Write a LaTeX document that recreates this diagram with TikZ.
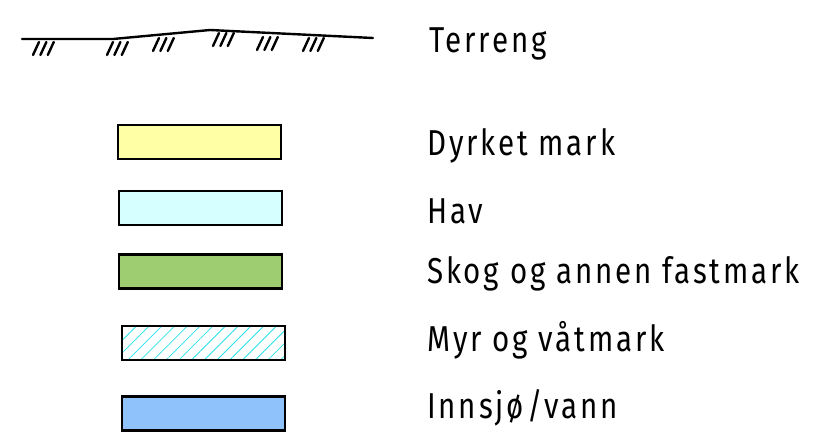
\documentclass[tikz,border=0pt]{standalone}
\usepackage{fontspec}
\setmainfont{Fira Sans}[FakeStretch=0.82,LetterSpace=8]
\usepackage{xcolor}
\usepackage{tikz}
\usetikzlibrary{patterns.meta}
\definecolor{dyrket}{RGB}{255,255,166}
\definecolor{hav}{RGB}{214,255,255}
\definecolor{skog}{RGB}{158,204,113}
\definecolor{myr}{RGB}{40,225,235}
\definecolor{vann}{RGB}{143,193,250}

\begin{document}
\begin{tikzpicture}[x=1pt,y=-1pt,font=\fontsize{36}{40}\selectfont,
  felt/.style={draw=black,line width=2.8pt,minimum width=163pt,minimum height=34pt,inner sep=0pt},
  lbl/.style={anchor=base west,inner sep=0pt},
  ln/.style={line width=2.4pt,line cap=round}]
  \useasboundingbox (0,0) rectangle (815,437);
  % terreng
  \draw[ln,line join=round] (22,39) -- (113,39) -- (210,30) -- (373,38);
  \foreach \x/\y in {33/55,107/55,153/51,213/46,257/50,303/51}
    \foreach \i in {0,1,2}
      \draw[ln] (\x+7.4*\i,\y) -- ++(6,-13);
  \node[lbl] (terreng) at (429,52) {Terreng};
  % flater
  \node[felt,fill=dyrket] (dyrket) at (199.5,142) {};
  \node[felt,fill=hav] (hav) at (200.5,208) {};
  \node[felt,fill=skog] (skog) at (200.5,271.5) {};
  \node[felt,pattern={Lines[angle=45,distance=9pt,line width=0.8pt]},pattern color=myr] (myr) at (203.5,343) {};
  \node[felt,fill=vann] (vann) at (203.5,413.5) {};
  \node[lbl] (tdyrket) at (427,155) {Dyrket mark};
  \node[lbl] (thav) at (427,223) {Hav};
  \node[lbl] (tskog) at (427,283) {Skog og annen fastmark};
  \node[lbl] (tmyr) at (427,351) {Myr og våtmark};
  \node[lbl] (tvann) at (427,418) {Innsjø/vann};
\end{tikzpicture}
\end{document}
